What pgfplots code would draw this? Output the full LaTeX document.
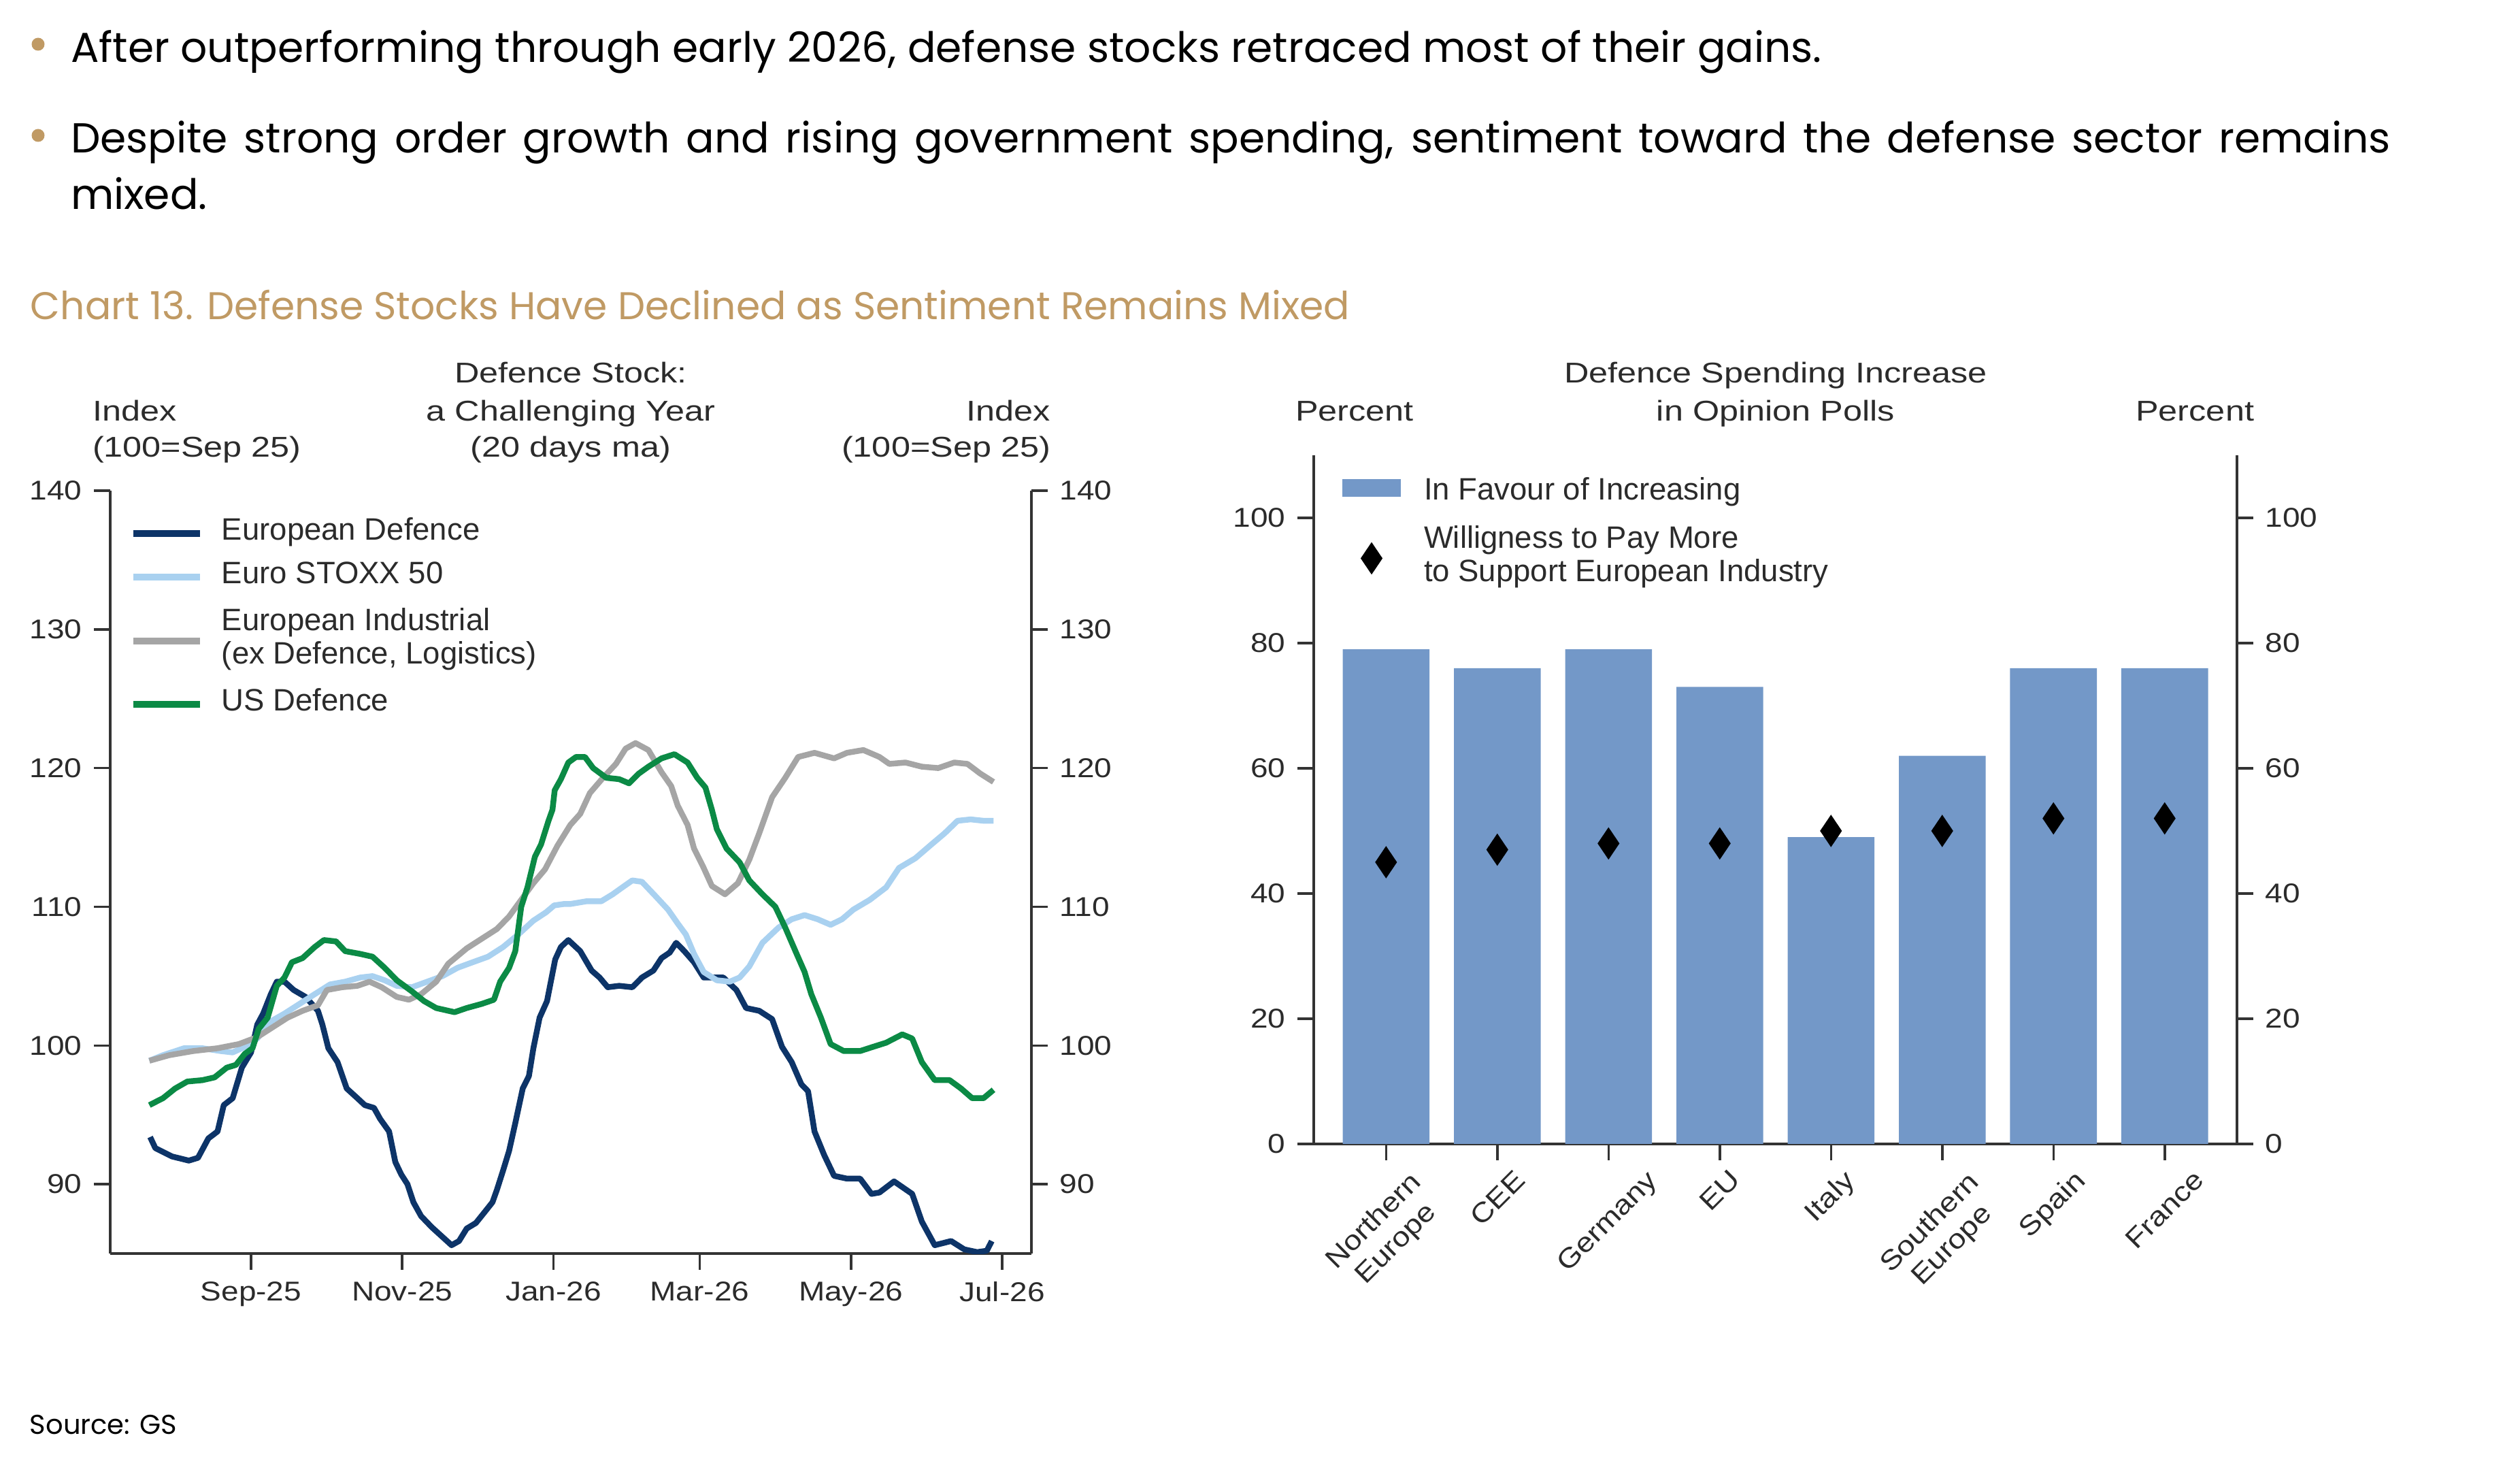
\documentclass[border=0pt]{standalone}
\usepackage{fontspec}
\setmainfont{Liberation Sans}
\newfontfamily\gothic{Poppins}
\newfontfamily\hdr{Liberation Sans}[FakeStretch=1.2]
\newfontfamily\tck{Liberation Sans}[FakeStretch=1.15]
\usepackage{pgfplots}
\pgfplotsset{compat=1.18}
\usepackage{pgfplotstable}
\definecolor{navy}{HTML}{0D3468}
\definecolor{lblue}{HTML}{A9D1F0}
\definecolor{igrey}{HTML}{A5A5A5}
\definecolor{usgreen}{HTML}{0B8A45}
\definecolor{axisgray}{HTML}{333333}
\definecolor{labelgray}{HTML}{2B2B2B}
\definecolor{barblue}{HTML}{7398C8}
\definecolor{gold}{HTML}{C09A64}

\newcommand{\padbox}[2]{\raisebox{0pt}[\dimexpr\height+#1\relax][\dimexpr\depth+#1\relax]{#2}}

\pgfplotstableread{
d v
-40.7 93.4
-38.6 92.6
-31.9 92.0
-25.1 91.7
-21.4 91.9
-17.2 93.3
-13.5 93.8
-11 95.7
-7.4 96.2
-3.7 98.4
0 99.5
2.5 101.5
4.9 102.3
8 103.7
10.4 104.6
13.5 104.6
17.2 104.0
22 103.5
27 102.5
28.8 101.5
31.2 99.8
34.9 98.8
38.6 96.9
42.9 96.2
45.9 95.7
49.6 95.5
52.1 94.7
55.7 93.8
58.2 91.6
60.6 90.7
63.1 90.0
65.5 88.7
68.6 87.7
72.9 86.9
77.2 86.2
80.9 85.6
83.9 85.9
87 86.8
90.7 87.2
94.3 88.0
97.4 88.7
99.2 89.6
101.7 91.0
104.1 92.4
106.6 94.4
109.6 96.9
112.1 97.8
113.9 99.8
116.4 102.0
119.4 103.2
122.7 106.2
125 107.1
128 107.6
132.8 106.8
137.4 105.4
140.6 104.9
143.9 104.2
148.5 104.3
153.8 104.2
157.7 104.9
162.3 105.4
165.6 106.3
168.9 106.7
171.5 107.4
174.8 106.8
178.7 106.0
182.6 104.9
186.6 104.9
190.5 104.9
195.8 104.0
199.7 102.7
205 102.5
210.2 101.9
214.2 99.9
218.1 98.8
222 97.2
224.7 96.7
227.3 93.8
231.2 92.1
235.2 90.6
240.4 90.4
245.7 90.4
250.3 89.3
253.5 89.4
259.4 90.2
266.7 89.3
270.6 87.3
275.8 85.6
282.4 85.9
287.7 85.3
292.9 85.1
296.8 85.2
298.8 85.9
}\tED

\pgfplotstableread{
d v
-41 98.9
-35.5 99.3
-27 99.8
-19.6 99.8
-12.3 99.6
-7.4 99.5
-2.5 99.9
2.5 100.5
8.6 101.8
13.5 102.3
19.6 103.0
25.7 103.7
31.9 104.4
38 104.6
44.1 104.9
49 105.0
53.9 104.7
58.8 104.3
64.9 104.2
71.1 104.6
77.2 105.0
83.3 105.6
89.4 106.0
95.6 106.4
101.7 107.1
107.8 108.0
113.9 109.0
119 109.6
122.3 110.1
126.2 110.2
128.8 110.2
135.4 110.4
141.3 110.4
145.9 110.9
149.8 111.4
153.8 111.9
157.7 111.8
163 110.8
168.2 109.8
172.1 108.8
175.4 108.0
178.7 106.6
182.6 105.3
187.9 104.7
193.1 104.6
197.1 104.9
201 105.7
206.3 107.4
212.8 108.5
218.1 109.1
223.3 109.4
228.6 109.1
233.8 108.7
238.4 109.1
243 109.8
249.6 110.5
256.2 111.4
261.4 112.8
268 113.5
274.5 114.5
279.8 115.3
285 116.2
290.3 116.3
295.5 116.2
299.5 116.2
}\tSX

\pgfplotstableread{
d v
-41 98.9
-33 99.3
-23.3 99.6
-13.5 99.8
-4.9 100.1
2.5 100.6
8.6 101.3
14.7 102.0
20.8 102.5
27 102.9
30.6 104.0
36.8 104.2
42.9 104.3
47.8 104.6
52.7 104.2
58.8 103.5
63.7 103.3
68.6 103.7
74.7 104.6
79.6 105.9
87 107.0
93.1 107.7
99.2 108.4
104.1 109.3
109 110.5
113.9 111.7
118.6 112.7
123.6 114.4
128.8 115.9
132.8 116.7
136.7 118.2
142 119.3
147.2 120.3
151.1 121.4
155.1 121.8
160.3 121.3
165.6 119.7
169.5 118.7
172.1 117.3
176.1 115.9
178.7 114.2
182.6 112.8
185.9 111.5
191.2 110.9
196.4 111.7
201 113.4
205 115.3
210.2 117.9
215.5 119.3
220.7 120.8
227.3 121.1
235.2 120.7
240.4 121.1
247 121.3
253.5 120.8
257.5 120.3
264 120.4
270.6 120.1
277.2 120.0
283.7 120.4
289 120.3
294.2 119.6
299.5 119.0
}\tEI

\pgfplotstableread{
d v
-41 95.7
-35.5 96.2
-30.6 96.9
-25.7 97.4
-19.6 97.5
-14.7 97.7
-9.8 98.4
-6.1 98.6
-2.5 99.4
0.6 99.8
3.1 101.2
6.7 102.0
10.4 104.3
13.5 104.9
16.5 106.0
20.8 106.3
25.7 107.1
29.4 107.6
34.3 107.5
38 106.8
44.1 106.6
49 106.4
53.9 105.6
58.8 104.7
64.9 103.9
69.8 103.2
74.7 102.7
82.1 102.4
87 102.7
93.1 103.0
98 103.3
100.5 104.6
104.1 105.6
106.6 106.8
109 110.0
111.5 111.4
114.5 113.6
117 114.5
120 116.2
121.6 117.0
122.5 118.4
125 119.2
128 120.4
131.1 120.8
134.7 120.8
138 120.0
143.3 119.3
148.5 119.2
152.5 118.9
156.4 119.6
160.3 120.1
165.6 120.7
170.8 121.0
176.1 120.4
180 119.3
183.3 118.6
185.9 117.0
187.9 115.6
191.8 114.2
197.1 113.2
201 111.9
206.3 110.9
211.5 110.0
215.5 108.5
220.1 106.6
223.3 105.3
226 103.7
229.9 102.0
233.8 100.1
239.1 99.6
245.7 99.6
250.9 99.9
256.2 100.2
262.7 100.8
266.7 100.5
270.6 98.8
275.8 97.5
281.8 97.5
286.4 96.9
290.9 96.2
295.5 96.2
299.5 96.8
}\tUS

\pgfplotstableread{
x fav pay
0 79 45
1 76 47
2 79 48
3 73 48
4 49 50
5 62 50
6 76 52
7 76 52
}\tPoll

\pgfplotsset{
  chartbase/.style={
    scale only axis,
    anchor=south west,
    tick align=outside,
    major tick length=4.8pt,
    tick style={axisgray, line width=0.7pt},
    axis line style={axisgray, line width=0.7pt},
    tick label style={font=\tck\fontsize{8}{9.6}\selectfont, text=labelgray},
    /pgf/number format/assume math mode=true,
  },
  barlegend/.style={legend image code/.code={\fill[barblue] (0pt,-1.2pt) rectangle (17.2pt,4pt);}},
  diamlegend/.style={legend image code/.code={\draw[black, only marks, mark=diamond*, mark size=4.4pt, mark options={xscale=0.9, line width=0.4pt}] plot coordinates {(8.6pt,0pt)}; \path (8.6pt,7pt);}},
}

\begin{document}
\begin{tikzpicture}
\useasboundingbox (0,0) rectangle (740.8pt,428pt);

% ---- page text ----
\fill[gold] (11.2pt,415pt) circle (1.9pt);
\node[anchor=base west, inner sep=0pt, font=\gothic\fontsize{12.3}{16.6}\selectfont] at (20.6pt,409.6pt)
  {After outperforming through early 2026, defense stocks retraced most of their gains.};
\fill[gold] (11.2pt,388.2pt) circle (1.9pt);
\node[anchor=base west, inner sep=0pt, font=\gothic\fontsize{12.3}{16.6}\selectfont] at (20.6pt,383pt)
  {\parbox[t]{682pt}{\hyphenpenalty=10000 Despite strong order growth and rising government spending, sentiment toward the defense sector remains\linebreak mixed.}};
\node[anchor=base west, inner sep=0pt, text=gold, font=\gothic\fontsize{11.35}{13}\selectfont] at (8.8pt,334pt)
  {Chart 13. Defense Stocks Have Declined as Sentiment Remains Mixed};
\node[anchor=base west, inner sep=0pt, font=\gothic\fontsize{8}{10}\selectfont] at (8.6pt,6.6pt) {Source: GS};

% ---- chart headers ----
\begin{scope}[every node/.style={inner sep=0pt, text=labelgray, font=\hdr\fontsize{8.4}{10.6}\selectfont}]
\node[anchor=base west] at (27pt,304.2pt) {Index};
\node[anchor=base west] at (27pt,293.6pt) {(100=Sep 25)};
\node[anchor=base] at (167.8pt,315.4pt) {Defence Stock:};
\node[anchor=base] at (167.8pt,304.2pt) {a Challenging Year};
\node[anchor=base] at (167.8pt,293.6pt) {(20 days ma)};
\node[anchor=base east] at (309pt,304.2pt) {Index};
\node[anchor=base east] at (309pt,293.6pt) {(100=Sep 25)};
\node[anchor=base west] at (380.6pt,304.2pt) {Percent};
\node[anchor=base] at (522pt,315.4pt) {Defence Spending Increase};
\node[anchor=base] at (522pt,304.2pt) {in Opinion Polls};
\node[anchor=base east] at (662.8pt,304.2pt) {Percent};
\end{scope}

% ---- left chart ----
\begin{axis}[chartbase,
  at={(32.4pt,59.6pt)}, width=270.8pt, height=224.2pt,
  xmin=-56.8, xmax=314.8, ymin=85, ymax=140,
  axis x line*=bottom, axis y line*=left,
  xtick={0,61,122,181,242,303},
  xticklabels={Sep-25,Nov-25,Jan-26,Mar-26,May-26,Jul-26},
  ytick={90,100,110,120,130,140},
  legend cell align=left,
  legend style={at={(0,1)}, anchor=north west, xshift=5.6pt, yshift=-7.4pt,
    draw=none, fill=none, inner sep=0pt, row sep=3.1pt,
    nodes={inner sep=0pt, text depth=},
    font=\fontsize{9.1}{9.8}\selectfont, text=labelgray,
    /tikz/every odd column/.append style={column sep=5.4pt}},
  legend image code/.code={\draw[#1, line width=2pt] (0pt,0pt) -- (19.6pt,0pt);},
]
\addplot[navy, line width=1.7pt, line join=round] table[x=d, y=v] {\tED};
\addlegendentry{European Defence\strut}
\addplot[lblue, line width=1.7pt, line join=round] table[x=d, y=v] {\tSX};
\addlegendentry{Euro STOXX 50\strut}
\addplot[igrey, line width=1.7pt, line join=round] table[x=d, y=v] {\tEI};
\addlegendentry{\padbox{0.9pt}{\begin{tabular}{@{}l@{}}European Industrial\\(ex Defence, Logistics)\end{tabular}}}
\addplot[usgreen, line width=1.7pt, line join=round] table[x=d, y=v] {\tUS};
\addlegendentry{US Defence\strut}
\end{axis}
\begin{axis}[chartbase,
  at={(32.4pt,59.6pt)}, width=270.8pt, height=224.2pt,
  xmin=-56.8, xmax=314.8, ymin=85, ymax=140,
  axis x line=none, axis y line*=right,
  ytick={90,100,110,120,130,140},
]
\end{axis}

% ---- right chart ----
\begin{axis}[chartbase,
  at={(386.2pt,91.8pt)}, width=271.4pt, height=202.4pt,
  xmin=-0.65, xmax=7.65, ymin=0, ymax=110,
  axis x line*=bottom, axis y line*=left,
  xtick={0,1,2,3,4,5,6,7},
  xticklabels={
    {\rotatebox{45}{\begin{tabular}{@{}c@{}}Northern\\Europe\end{tabular}}},
    {\rotatebox{45}{CEE}},
    {\rotatebox{45}{Germany}},
    {\rotatebox{45}{EU}},
    {\rotatebox{45}{Italy}},
    {\rotatebox{45}{\begin{tabular}{@{}c@{}}Southern\\Europe\end{tabular}}},
    {\rotatebox{45}{Spain}},
    {\rotatebox{45}{France}}},
  xticklabel style={anchor=north, inner sep=2.2pt, font=\tck\fontsize{8}{9.2}\selectfont},
  ytick={0,20,40,60,80,100},
  legend cell align=left,
  legend style={at={(0,1)}, anchor=north west, xshift=8.2pt, yshift=-6pt,
    draw=none, fill=none, inner sep=0pt, row sep=3.1pt,
    nodes={inner sep=0pt, text depth=},
    font=\fontsize{9.1}{9.8}\selectfont, text=labelgray,
    /tikz/every odd column/.append style={column sep=6.8pt}},
]
\addplot[ybar, bar width=0.78, fill=barblue, draw=none, barlegend]
  table[x=x, y=fav] {\tPoll};
\addlegendentry{In Favour of Increasing\strut}
\addplot[only marks, mark=diamond*, mark size=4.4pt, black,
  mark options={xscale=0.9, line width=0.4pt}, diamlegend]
  table[x=x, y=pay] {\tPoll};
\addlegendentry{\padbox{1.4pt}{\begin{tabular}{@{}l@{}}Willigness to Pay More\\to Support European Industry\end{tabular}}}
\end{axis}
\begin{axis}[chartbase,
  at={(386.2pt,91.8pt)}, width=271.4pt, height=202.4pt,
  xmin=-0.65, xmax=7.65, ymin=0, ymax=110,
  axis x line=none, axis y line*=right,
  ytick={0,20,40,60,80,100},
]
\end{axis}
\end{tikzpicture}
\end{document}
